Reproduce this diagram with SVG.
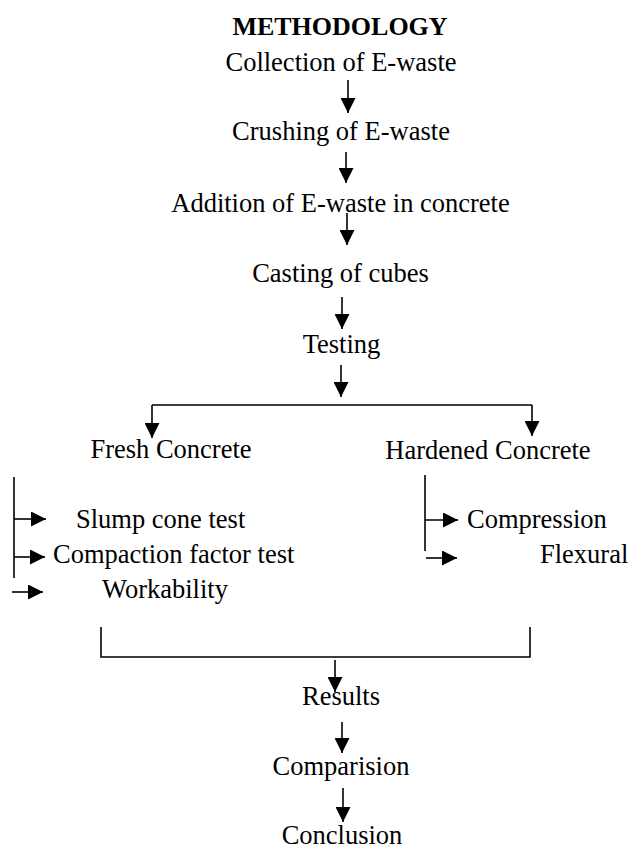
<svg xmlns="http://www.w3.org/2000/svg" width="632" height="849" viewBox="0 0 632 849">
<style>
text{font-family:"Liberation Serif","Times New Roman",serif;font-size:26.5px;fill:#000}
.c{text-anchor:middle}
.t{font-weight:bold;font-size:26px}
.ln{stroke:#000;stroke-width:1.6;fill:none}
.ar{stroke:#000;stroke-width:1.6;fill:none;marker-end:url(#ah)}
</style>
<defs>
<marker id="ah" markerUnits="userSpaceOnUse" markerWidth="15" markerHeight="15" refX="15" refY="7.5" orient="auto" viewBox="0 0 15 15">
<path d="M0,0 L15,7.5 L0,15 z" fill="#000"/>
</marker>
</defs>
<g id="title"><text class="c t" x="340" y="35">METHODOLOGY</text></g>
<g id="collection"><text class="c" x="341" y="71">Collection of E-waste</text></g>
<g id="crushing"><text class="c" x="341" y="140">Crushing of E-waste</text></g>
<g id="addition"><text class="c" x="340.5" y="212">Addition of E-waste in concrete</text></g>
<g id="casting"><text class="c" x="340.5" y="282">Casting of cubes</text></g>
<g id="testing"><text class="c" x="341.5" y="353">Testing</text></g>
<g id="fresh"><text class="c" x="171" y="458">Fresh Concrete</text></g>
<g id="hardened"><text class="c" x="488" y="459">Hardened Concrete</text></g>
<g id="slump"><text x="76" y="528">Slump cone test</text></g>
<g id="compaction"><text x="53" y="563">Compaction factor test</text></g>
<g id="workability"><text x="102" y="598">Workability</text></g>
<g id="compression"><text x="467" y="528">Compression</text></g>
<g id="flexural"><text x="540" y="563">Flexural</text></g>
<g id="results"><text class="c" x="341" y="705">Results</text></g>
<g id="comparision"><text class="c" x="341" y="775">Comparision</text></g>
<g id="conclusion"><text class="c" x="342" y="844">Conclusion</text></g>
<g id="connectors">
<path class="ar" d="M348,80 V113"/>
<path class="ar" d="M346,152 V183"/>
<path class="ar" d="M347,213 V245"/>
<path class="ar" d="M342,297 V329"/>
<path class="ar" d="M341,365 V397"/>
<path class="ln" d="M152,405 H532"/>
<path class="ar" d="M152,405 V438"/>
<path class="ar" d="M532,405 V436"/>
<path class="ln" d="M14,477 V578"/>
<path class="ar" d="M14,519 H46"/>
<path class="ar" d="M14,557 H45"/>
<path class="ar" d="M12,592 H43"/>
<path class="ln" d="M425,475 V551"/>
<path class="ar" d="M425,520 H458"/>
<path class="ar" d="M426,558 H457"/>
<path class="ln" d="M101,627 V657 H530 V627"/>
<path class="ar" d="M335,660 V692"/>
<path class="ar" d="M342,722 V753"/>
<path class="ar" d="M343,788 V822"/>
</g>
</svg>
